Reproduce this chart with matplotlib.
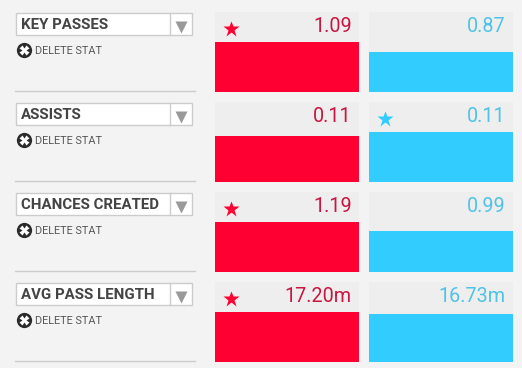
import matplotlib
matplotlib.use("Agg")
import matplotlib.pyplot as plt
from matplotlib.patches import Rectangle

stats = ["KEY PASSES", "ASSISTS", "CHANCES CREATED", "AVG PASS LENGTH"]
red_labels = ["1.09", "0.11", "1.19", "17.20m"]
blue_labels = ["0.87", "0.11", "0.99", "16.73m"]
red_bars = [50, 46, 50, 50]
blue_bars = [40, 50, 41, 48]
red_star = [True, False, True, True]
blue_star = [False, True, False, False]
delete_label = "DELETE STAT"

BG = "#f3f3f3"; PANEL = "#eeeeee"; RED = "#ff0033"; BLUE = "#33ccff"
RED_T = "#c9153f"; BLUE_T = "#4fc3e6"; LINE = "#cccccc"

plt.rcParams["font.family"] = ["Roboto", "DejaVu Sans"]
fig = plt.figure(figsize=(5.22, 3.68), dpi=100, facecolor=BG)
ax = fig.add_axes([0, 0, 1, 1])
ax.set_xlim(0, 522); ax.set_ylim(368, 0); ax.axis("off")

for i, name in enumerate(stats):
    y = 90 * i
    # selector
    ax.add_patch(Rectangle((15.5, 12.5 + y), 176.5, 22.5, fc="white", ec=LINE, lw=1))
    ax.plot([169.5, 169.5], [13 + y, 35 + y], color=LINE, lw=1)
    ax.plot([181], [26.5 + y], marker="v", ms=8, color="#999999", mec="none")
    ax.text(21, 25.2 + y, name, fontsize=10.8, fontweight="bold", color="#444444",
            va="center", ha="left")
    # delete
    ax.plot([23.5], [49.5 + y], marker="o", ms=11, color="#2b2b2b", mec="none")
    ax.plot([23.5], [49.5 + y], marker="X", ms=6.5, color="white", mec="none")
    ax.text(35, 50.5 + y, delete_label, fontsize=7.8, color="#555555", va="center", ha="left")
    # separator
    ax.plot([15, 195], [91 + y, 91 + y], color=LINE, lw=1)
    # panels
    for x0, vals, lab, star, col, tcol in (
        (215, red_bars, red_labels, red_star, RED, RED_T),
        (369, blue_bars, blue_labels, blue_star, BLUE, BLUE_T),
    ):
        ax.add_patch(Rectangle((x0, 12 + y), 144, 80, fc=PANEL, ec="none"))
        ax.bar(x0, -vals[i], width=144, bottom=92 + y, align="edge", color=col, lw=0)
        ax.text(x0 + 137, 26 + y, lab[i], fontsize=14.2, color=tcol, va="center", ha="right")
        if star[i]:
            ax.plot([x0 + 16], [28.5 + y], marker="*", ms=12, color=col, mec="none")

fig.savefig("out.png", dpi=100, facecolor=BG)
